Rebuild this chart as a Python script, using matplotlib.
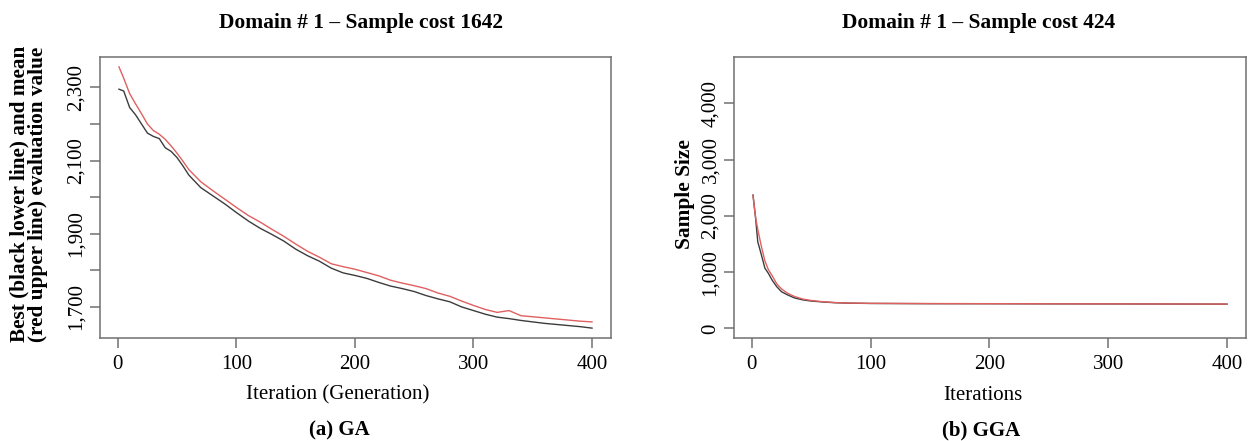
import matplotlib
matplotlib.use("Agg")
import matplotlib.pyplot as plt

plt.rcParams['font.family'] = ['Liberation Serif', 'DejaVu Serif']

# (a) GA: best (black) and mean (red) evaluation value per generation
ga_iter = [1, 5, 10, 15, 20, 25, 30, 35, 40, 45, 50, 55, 60, 70, 80, 90, 100, 110, 120,
           130, 140, 150, 160, 170, 180, 190, 200, 210, 220, 230, 240, 250, 260, 270,
           280, 290, 300, 310, 320, 330, 340, 350, 360, 370, 380, 390, 400]
ga_best = [2295, 2290, 2245, 2225, 2200, 2175, 2166, 2160, 2135, 2125, 2108, 2085,
           2060, 2026, 2004, 1982, 1958, 1935, 1915, 1898, 1880, 1858, 1840, 1825,
           1806, 1793, 1786, 1778, 1767, 1757, 1750, 1742, 1731, 1722, 1714, 1700,
           1690, 1680, 1672, 1668, 1663, 1659, 1655, 1652, 1649, 1646, 1642]
ga_mean = [2356, 2325, 2283, 2255, 2228, 2200, 2182, 2172, 2158, 2140, 2120, 2098,
           2075, 2042, 2018, 1995, 1972, 1950, 1932, 1912, 1893, 1872, 1852, 1836,
           1818, 1810, 1803, 1794, 1785, 1773, 1765, 1758, 1750, 1738, 1729, 1716,
           1704, 1693, 1685, 1690, 1676, 1673, 1670, 1667, 1664, 1661, 1659]

# (b) GGA: sample size per iteration
gga_iter = [1, 3, 5, 8, 11, 14, 17, 21, 25, 30, 36, 43, 50, 60, 70, 80, 100,
            150, 200, 250, 300, 350, 400]
gga_black = [2370, 2000, 1540, 1310, 1070, 975, 860, 740, 650, 595, 540, 505, 485,
             468, 455, 448, 442, 438, 437, 435, 434, 432, 430]
gga_red = [2360, 1990, 1760, 1460, 1200, 1040, 940, 790, 700, 625, 565, 520, 495,
           472, 458, 450, 444, 440, 438, 436, 435, 433, 431]

ga_yticks = [1700, 1800, 1900, 2000, 2100, 2200, 2300]
ga_ylabels = ['1,700', '', '1,900', '', '2,100', '', '2,300']
gga_yticks = [0, 1000, 2000, 3000, 4000]
gga_ylabels = ['0', '1,000', '2,000', '3,000', '4,000']
xticks = [0, 100, 200, 300, 400]

W, H = 1248, 441
fig = plt.figure(figsize=(W / 100, H / 100), dpi=100)

ax1 = fig.add_axes([100 / W, 1 - 338 / H, 511 / W, 281 / H])
ax2 = fig.add_axes([734 / W, 1 - 338 / H, 512 / W, 281 / H])

black = '#3c3c3c'
red = '#e06060'

ax1.plot(ga_iter, ga_best, color=black, lw=1.0)
ax1.plot(ga_iter, ga_mean, color=red, lw=1.0)
ax1.set_ylim(1615, 2383)
ax1.set_yticks(ga_yticks)
ax1.set_yticklabels(ga_ylabels)

ax2.plot(gga_iter, gga_black, color=black, lw=1.0)
ax2.plot(gga_iter, gga_red, color=red, lw=1.0)
ax2.set_ylim(-172, 4823)
ax2.set_yticks(gga_yticks)
ax2.set_yticklabels(gga_ylabels)

for ax in (ax1, ax2):
    ax.set_xlim(-15, 416)
    ax.set_xticks(xticks)
    for s in ax.spines.values():
        s.set_color('#707070')
        s.set_linewidth(1.1)
    ax.tick_params(axis='both', length=7, width=1.1, color='#707070', labelsize=15)
    ax.tick_params(axis='x', pad=5)
    ax.tick_params(axis='y', pad=3)
    for lab in ax.get_yticklabels():
        lab.set_rotation(90)
        lab.set_va('center')

# titles and labels
fig.text(361 / W, 1 - 23 / H, 'Domain # 1 \u2013 Sample cost 1642', ha='center', va='center',
         fontsize=15.5, fontweight='bold')
fig.text(979 / W, 1 - 23 / H, 'Domain # 1 \u2013 Sample cost 424', ha='center', va='center',
         fontsize=15.5, fontweight='bold')

fig.text(338 / W, 1 - 395 / H, 'Iteration (Generation)', ha='center', va='center', fontsize=15)
fig.text(983 / W, 1 - 395 / H, 'Iterations', ha='center', va='center', fontsize=15)

fig.text(339 / W, 1 - 430 / H, '(a) GA', ha='center', va='center', fontsize=15, fontweight='bold')
fig.text(981 / W, 1 - 430 / H, '(b) GGA', ha='center', va='center', fontsize=15, fontweight='bold')

fig.text(29 / W, 1 - 194 / H, 'Best (black lower line) and mean\n(red upper line) evaluation value',
         ha='center', va='center', rotation=90, fontsize=15.3, fontweight='bold', linespacing=0.9)
fig.text(685 / W, 1 - 194 / H, 'Sample Size', ha='center', va='center', rotation=90,
         fontsize=15.4, fontweight='bold')

fig.savefig('out.png', dpi=100)
